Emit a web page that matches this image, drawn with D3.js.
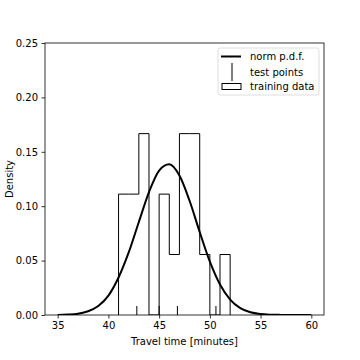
<!DOCTYPE html>
<head>
  <meta charset="utf-8">
  <script src="https://cdn.jsdelivr.net/npm/d3@7"></script>
  <style>
    body { margin: 0; background: white; }
    text { font-family: "DejaVu Sans"; font-size: 10px; fill: black; }
  </style>
</head>
<body>
  <svg id="chart"></svg>
  <script>
    var width = 360;
    var height = 360;

    // histogram of training data (density, bin width 1)
    var binEdges = [41, 42, 43, 44, 45, 46, 47, 48, 49, 50, 51, 52];
    var binDensity = [0.1111, 0.1111, 0.1667, 0, 0.1111, 0.0556, 0.1667, 0.1667, 0.0556, 0, 0.0556];

    // norm p.d.f.
    var pdfX = [35, 36, 37, 38, 39, 40, 41, 42, 43, 44, 45, 46, 47, 48, 49, 50, 51, 52, 53, 54, 55, 56, 57, 58, 59, 60];
    var pdfY = [0.0001, 0.0004, 0.0012, 0.0034, 0.0082, 0.0178, 0.0345, 0.0575, 0.0855, 0.1130, 0.1328, 0.1385, 0.1282, 0.1050, 0.0762, 0.0490, 0.0280, 0.0142, 0.0063, 0.0025, 0.0009, 0.0003, 0.0001, 0.0000, 0.0000, 0.0000];

    // test points along the bottom
    var testPoints = [42.8, 45.0, 46.8, 50.6];

    var xTicks = [35, 40, 45, 50, 55, 60];
    var yTicks = [0, 0.05, 0.10, 0.15, 0.20, 0.25];

    var svg = d3.select("#chart")
      .attr("width", width)
      .attr("height", height);

    svg.append("rect")
      .attr("width", width)
      .attr("height", height)
      .attr("fill", "white");

    var x = d3.scaleLinear().domain([33.75, 61.25]).range([45, 324]);
    var y = d3.scaleLinear().domain([0, 0.25]).range([315, 43]);

    svg.append("clipPath").attr("id", "clip")
      .append("rect")
      .attr("x", 45).attr("y", 43)
      .attr("width", 279).attr("height", 272);

    var plot = svg.append("g").attr("clip-path", "url(#clip)");

    // step outline of the histogram
    var steps = [[binEdges[0], 0]];
    binDensity.forEach(function(d, i) {
      steps.push([binEdges[i], d]);
      steps.push([binEdges[i + 1], d]);
    });
    steps.push([binEdges[binEdges.length - 1], 0]);

    plot.append("path")
      .attr("d", d3.line().x(d => x(d[0])).y(d => y(d[1]))(steps))
      .attr("fill", "none")
      .attr("stroke", "black")
      .attr("stroke-width", 1);

    // pdf curve
    plot.append("path")
      .attr("d", d3.line()
        .x((d, i) => x(pdfX[i]))
        .y(d => y(d))
        .curve(d3.curveMonotoneX)(pdfY))
      .attr("fill", "none")
      .attr("stroke", "black")
      .attr("stroke-width", 2);

    // test point markers ('|' centred on zero, lower half clipped)
    plot.selectAll(".test")
      .data(testPoints).enter()
      .append("line")
      .attr("class", "test")
      .attr("x1", d => x(d)).attr("x2", d => x(d))
      .attr("y1", y(0) - 9).attr("y2", y(0) + 9)
      .attr("stroke", "black")
      .attr("stroke-width", 1);

    // axes
    var xAxis = svg.append("g")
      .attr("transform", "translate(0,315)")
      .call(d3.axisBottom(x).tickValues(xTicks).tickSize(3.5).tickPadding(3.5).tickFormat(d3.format("d")));
    var yAxis = svg.append("g")
      .attr("transform", "translate(45,0)")
      .call(d3.axisLeft(y).tickValues(yTicks).tickSize(3.5).tickPadding(3.5).tickFormat(d3.format(".2f")));
    [xAxis, yAxis].forEach(function(a) {
      a.select(".domain").remove();
      a.selectAll("line").attr("stroke", "black").attr("stroke-width", 0.8);
      a.selectAll("text").attr("font-family", "DejaVu Sans").attr("font-size", 10).attr("fill", "black");
    });

    svg.append("rect")
      .attr("x", 45).attr("y", 43)
      .attr("width", 279).attr("height", 272)
      .attr("fill", "none")
      .attr("stroke", "black")
      .attr("stroke-width", 0.8);

    svg.append("text")
      .attr("x", 184.5).attr("y", 345)
      .attr("text-anchor", "middle")
      .text("Travel time [minutes]");

    svg.append("text")
      .attr("transform", "translate(13,179) rotate(-90)")
      .attr("text-anchor", "middle")
      .text("Density");

    // legend
    var legend = svg.append("g");
    legend.append("rect")
      .attr("x", 218).attr("y", 48)
      .attr("width", 101).attr("height", 47)
      .attr("rx", 2)
      .attr("fill", "white")
      .attr("fill-opacity", 0.8)
      .attr("stroke", "#d6d6d6")
      .attr("stroke-width", 0.8);

    var labels = ["norm p.d.f.", "test points", "training data"];
    var rowY = [56.5, 72, 86.5];

    legend.append("line")
      .attr("x1", 221).attr("x2", 241)
      .attr("y1", rowY[0]).attr("y2", rowY[0])
      .attr("stroke", "black").attr("stroke-width", 2);
    legend.append("line")
      .attr("x1", 232).attr("x2", 232)
      .attr("y1", rowY[1] - 9).attr("y2", rowY[1] + 9)
      .attr("stroke", "black").attr("stroke-width", 1);
    legend.append("rect")
      .attr("x", 222).attr("y", rowY[2] - 3)
      .attr("width", 19).attr("height", 6)
      .attr("fill", "none")
      .attr("stroke", "black").attr("stroke-width", 1);

    legend.selectAll(".lab")
      .data(labels).enter()
      .append("text")
      .attr("class", "lab")
      .attr("x", 250)
      .attr("y", (d, i) => rowY[i])
      .attr("dy", "0.35em")
      .text(d => d);
  </script>
</body>
